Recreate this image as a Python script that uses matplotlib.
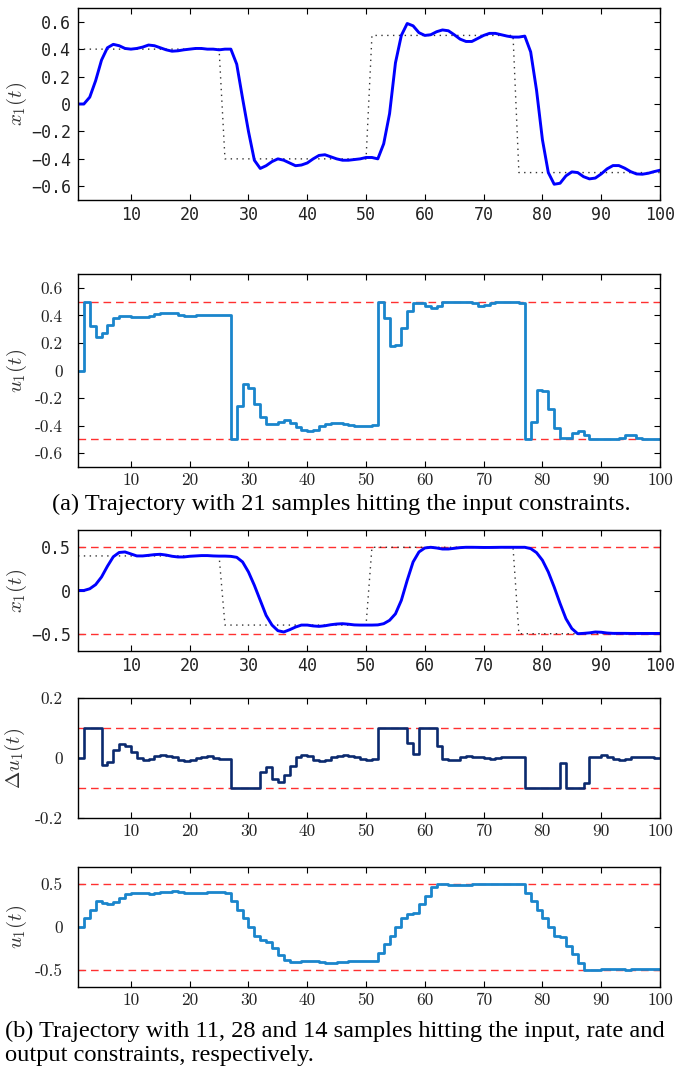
import numpy as np
import matplotlib
matplotlib.use("Agg")
import matplotlib.pyplot as plt

plt.rcParams['mathtext.fontset'] = 'cm'

t = np.arange(1, 101)

# reference trajectories
ref_levels = [0.4, -0.4, 0.5, -0.5]
ref_len = 25

# (a) output x1(t)
x1_a = [0, 0, 0.05, 0.17, 0.32, 0.41, 0.435, 0.425, 0.405, 0.40,
        0.405, 0.415, 0.43, 0.425, 0.41, 0.395, 0.385, 0.388, 0.395, 0.40,
        0.405, 0.405, 0.40, 0.40, 0.395, 0.40, 0.40, 0.29, 0.04, -0.20,
        -0.41, -0.47, -0.45, -0.42, -0.40, -0.41, -0.43, -0.45, -0.445, -0.43,
        -0.40, -0.375, -0.37, -0.385, -0.40, -0.41, -0.41, -0.405, -0.40, -0.39,
        -0.39, -0.40, -0.29, -0.07, 0.30, 0.50, 0.587, 0.57, 0.52, 0.50,
        0.505, 0.527, 0.54, 0.534, 0.505, 0.473, 0.456, 0.456, 0.478, 0.50,
        0.515, 0.515, 0.505, 0.495, 0.488, 0.488, 0.495, 0.38, 0.10, -0.26,
        -0.50, -0.585, -0.578, -0.524, -0.495, -0.50, -0.53, -0.546, -0.54, -0.51,
        -0.473, -0.449, -0.449, -0.468, -0.493, -0.51, -0.512, -0.505, -0.493, -0.483]

# (a) input u1(t)
u1_a = [0, 0.5, 0.32, 0.245, 0.27, 0.33, 0.38, 0.395, 0.395, 0.39,
        0.385, 0.385, 0.395, 0.41, 0.42, 0.42, 0.415, 0.405, 0.395, 0.395,
        0.40, 0.40, 0.405, 0.405, 0.40, 0.40, -0.5, -0.26, -0.10, -0.13,
        -0.24, -0.34, -0.39, -0.39, -0.37, -0.36, -0.38, -0.41, -0.435, -0.44,
        -0.43, -0.405, -0.39, -0.38, -0.38, -0.385, -0.395, -0.40, -0.405, -0.40,
        -0.395, 0.5, 0.38, 0.18, 0.185, 0.31, 0.43, 0.49, 0.49, 0.465,
        0.45, 0.465, 0.5, 0.5, 0.5, 0.5, 0.5, 0.488, 0.47, 0.475,
        0.488, 0.5, 0.5, 0.5, 0.5, 0.49, -0.5, -0.37, -0.145, -0.15,
        -0.28, -0.42, -0.49, -0.49, -0.455, -0.44, -0.466, -0.5, -0.5, -0.5,
        -0.5, -0.5, -0.488, -0.466, -0.47, -0.49, -0.5, -0.5, -0.5, -0.5]

# (b) output x1(t)
x1_b = [0, 0, 0.02, 0.068, 0.156, 0.28, 0.39, 0.44, 0.446, 0.423,
        0.40, 0.40, 0.407, 0.415, 0.419, 0.41, 0.396, 0.388, 0.388, 0.396,
        0.40, 0.404, 0.404, 0.40, 0.398, 0.398, 0.395, 0.384, 0.33, 0.214,
        0.06, -0.114, -0.288, -0.40, -0.465, -0.48, -0.454, -0.423, -0.40, -0.40,
        -0.41, -0.415, -0.408, -0.396, -0.388, -0.384, -0.39, -0.398, -0.40, -0.40,
        -0.40, -0.398, -0.384, -0.345, -0.27, -0.114, 0.118, 0.33, 0.446, 0.492,
        0.50, 0.492, 0.48, 0.48, 0.488, 0.496, 0.50, 0.50, 0.499, 0.498,
        0.498, 0.499, 0.50, 0.50, 0.50, 0.50, 0.50, 0.485, 0.438, 0.35,
        0.214, 0.04, -0.15, -0.326, -0.44, -0.50, -0.496, -0.49, -0.48, -0.483,
        -0.492, -0.496, -0.496, -0.496, -0.497, -0.497, -0.497, -0.497, -0.497, -0.497]

# (b) input rate du1(t)
du1_b = [0, 0.1, 0.1, 0.1, -0.022, -0.013, 0.028, 0.048, 0.041, 0.019,
         0.0, -0.008, -0.003, 0.006, 0.010, 0.008, 0.002, -0.006, -0.009, -0.006,
         -0.001, 0.003, 0.007, 0.001, -0.002, -0.003, -0.1, -0.1, -0.1, -0.1,
         -0.1, -0.048, -0.029, -0.069, -0.080, -0.058, -0.026, 0.003, 0.010, 0.006,
         -0.006, -0.011, -0.005, 0.002, 0.008, 0.011, 0.008, 0.002, -0.004, -0.007,
         -0.003, 0.1, 0.1, 0.1, 0.1, 0.1, 0.05, 0.013, 0.1, 0.1,
         0.1, 0.041, -0.002, -0.007, -0.006, 0.002, 0.008, 0.004, 0.002, 0.0,
         -0.002, 0.0, 0.003, 0.005, 0.004, 0.002, -0.1, -0.1, -0.1, -0.1,
         -0.1, -0.1, -0.017, -0.1, -0.1, -0.1, -0.083, 0.002, 0.002, 0.011,
         0.005, -0.002, -0.008, -0.003, 0.002, 0.004, 0.005, 0.003, 0.0, 0.0]

# (b) input u1(t)
u1_b = [0, 0.1, 0.2, 0.3, 0.278, 0.265, 0.293, 0.341, 0.382, 0.401,
        0.401, 0.393, 0.39, 0.396, 0.406, 0.414, 0.416, 0.41, 0.401, 0.395,
        0.394, 0.397, 0.404, 0.405, 0.403, 0.40, 0.30, 0.20, 0.10, 0.0,
        -0.10, -0.148, -0.177, -0.246, -0.326, -0.384, -0.41, -0.407, -0.40, -0.398,
        -0.402, -0.41, -0.415, -0.417, -0.413, -0.405, -0.398, -0.395, -0.396, -0.40,
        -0.40, -0.30, -0.20, -0.10, 0.0, 0.10, 0.15, 0.163, 0.263, 0.363,
        0.463, 0.50, 0.498, 0.491, 0.487, 0.489, 0.495, 0.499, 0.50, 0.50,
        0.498, 0.498, 0.50, 0.50, 0.50, 0.50, 0.40, 0.30, 0.20, 0.10,
        0.0, -0.10, -0.117, -0.217, -0.317, -0.417, -0.50, -0.498, -0.496, -0.487,
        -0.485, -0.49, -0.495, -0.496, -0.495, -0.494, -0.494, -0.494, -0.494, -0.494]

ref = np.repeat(ref_levels, ref_len)

xticks = [10, 20, 30, 40, 50, 60, 70, 80, 90, 100]
yt_a1 = [-0.6, -0.4, -0.2, 0, 0.2, 0.4, 0.6]
yt_b = [-0.5, 0, 0.5]
yt_du = [-0.2, 0, 0.2]

BLUE = '#0000ff'
LBLUE = '#1a85cc'
NAVY = '#0b2a6f'
RED = '#ff3030'

W, H = 674, 1076
fig = plt.figure(figsize=(W / 100, H / 100), dpi=100)

def make_ax(top, bottom):
    return fig.add_axes([78 / W, 1 - bottom / H, (660 - 78) / W, (bottom - top) / H])

MONO = 'DejaVu Sans Mono'
SERIF = 'cmr10'

def fmt_mono(v):
    if v == 0:
        return '0'
    s = ('%g' % abs(v))
    return ('\u2212' + s) if v < 0 else s

def fmt_serif(v):
    if v == 0:
        return '0'
    return '%g' % v

def style(ax, yt, ylim, font, fmt, size, ypad):
    ax.set_xlim(1, 100)
    ax.set_ylim(*ylim)
    ax.set_xticks(xticks)
    ax.set_yticks(yt)
    ax.set_xticklabels([str(v) for v in xticks], fontfamily=font, fontsize=size, color='#222222')
    ax.set_yticklabels([fmt(v) for v in yt], fontfamily=font, fontsize=size, color='#222222')
    ax.tick_params(direction='in', top=True, right=True, length=4, width=0.8)
    ax.tick_params(axis='x', pad=4)
    ax.tick_params(axis='y', pad=ypad)
    for s in ax.spines.values():
        s.set_linewidth(1.0)

def ylabel(top, bottom, text, x=17):
    fig.text(x / W, 1 - (top + bottom) / 2 / H, text, rotation=90, ha='center', va='center',
             fontsize=15, color='#333333')

dotted = dict(color='#333333', lw=1.0, ls=(0, (1, 3.2)))
dashed = dict(color=RED, lw=1.0, ls=(0, (5.5, 3.5)))

# Panel 1
ax1 = make_ax(8, 200)
ax1.plot(t, ref, **dotted)
ax1.plot(t, x1_a, color=BLUE, lw=2.1)
style(ax1, yt_a1, (-0.7, 0.7), MONO, fmt_mono, 12, 5)
ylabel(8, 200, r'$x_1(t)$')

# Panel 2
ax2 = make_ax(274, 467)
ax2.axhline(0.5, **dashed)
ax2.axhline(-0.5, **dashed)
ax2.step(t, u1_a, where='post', color=LBLUE, lw=2.0)
style(ax2, yt_a1, (-0.7, 0.7), SERIF, fmt_serif, 12.5, 11)
ylabel(274, 467, r'$u_1(t)$')

CAP = dict(fontfamily='Liberation Serif', fontsize=17.6)
fig.text(341 / W, 1 - 504 / H, '(a) Trajectory with 21 samples hitting the input constraints.',
         ha='center', va='center', **CAP)

# Panel 3
ax3 = make_ax(530, 651)
ax3.axhline(0.5, **dashed)
ax3.axhline(-0.5, **dashed)
ax3.plot(t, ref, **dotted)
ax3.plot(t, x1_b, color=BLUE, lw=2.1)
style(ax3, yt_b, (-0.7, 0.7), MONO, fmt_mono, 12, 5)
ylabel(530, 651, r'$x_1(t)$')

# Panel 4
ax4 = make_ax(698, 818)
ax4.axhline(0.1, **dashed)
ax4.axhline(-0.1, **dashed)
ax4.step(t, du1_b, where='post', color=NAVY, lw=1.9)
style(ax4, yt_du, (-0.2, 0.2), SERIF, fmt_serif, 12.5, 11)
ylabel(698, 818, r'$\Delta u_1(t)$', x=15)

# Panel 5
ax5 = make_ax(867, 987)
ax5.axhline(0.5, **dashed)
ax5.axhline(-0.5, **dashed)
ax5.step(t, u1_b, where='post', color=LBLUE, lw=2.0)
style(ax5, yt_b, (-0.7, 0.7), SERIF, fmt_serif, 12.5, 11)
ylabel(867, 987, r'$u_1(t)$')

fig.text(5 / W, 1 - 1031 / H, '(b) Trajectory with 11, 28 and 14 samples hitting the input, rate and',
         ha='left', va='center', **CAP)
fig.text(5 / W, 1 - 1055 / H, 'output constraints, respectively.',
         ha='left', va='center', **CAP)

fig.savefig('out.png', dpi=100)
